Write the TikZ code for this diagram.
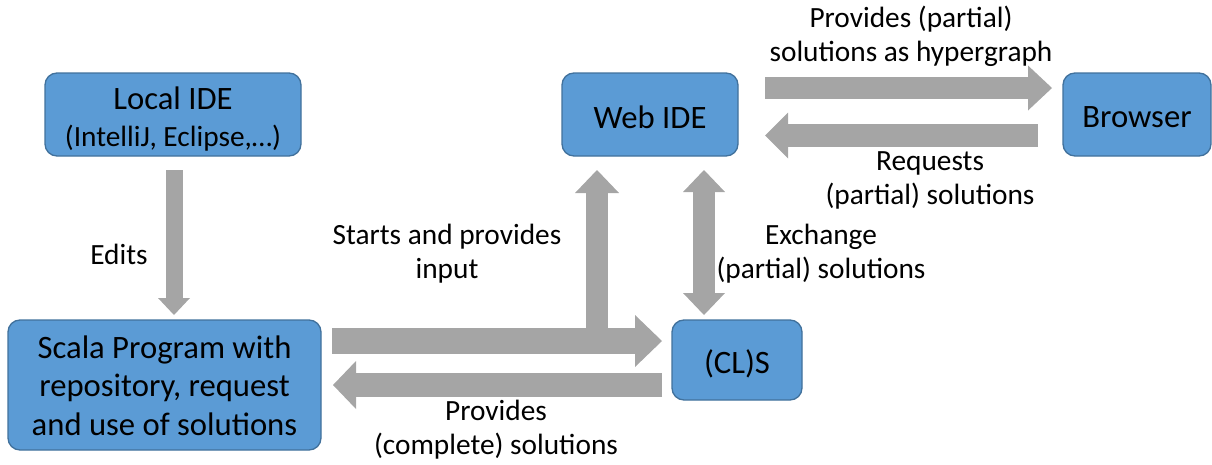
\documentclass[tikz,border=0pt]{standalone}
\usepackage{fontspec}
\setmainfont{Carlito}
\usetikzlibrary{arrows.meta}
\definecolor{boxfill}{HTML}{5B9BD5}
\definecolor{boxline}{HTML}{41719C}
\definecolor{arrowgray}{HTML}{A5A5A5}
\begin{document}
\begin{tikzpicture}[x=0.75pt,y=-0.75pt,
  box/.style={draw=boxline, fill=boxfill, line width=1pt, rounded corners=9pt,
    inner sep=0pt},
  boxtext/.style={align=center, inner sep=0pt, font=\fontsize{24.5}{29}\selectfont},
  lbl/.style={align=center, font=\fontsize{22}{25.5}\selectfont, inner sep=0pt},
  blk/.style={draw=arrowgray, line width=#1},
]
\useasboundingbox (0,0) rectangle (1212,464);

% boxes
\node[box, minimum width=192pt, minimum height=62.25pt] (local) at (173,114.5) {};
\node[box, minimum width=234.75pt, minimum height=97.5pt] (scala) at (164.5,385) {};
\node[box, minimum width=132pt, minimum height=62.25pt] (web) at (650,114.5) {};
\node[box, minimum width=111pt, minimum height=62.25pt] (browser) at (1137,114.5) {};
\node[box, minimum width=97.5pt, minimum height=60pt] (cls) at (737,360) {};

% box texts
\node[boxtext] (localtext) at ([yshift=-3.4pt]local.center)
  {Local IDE\\[-1.5pt]{\fontsize{22}{26}\selectfont (IntelliJ, Eclipse,\dots)}};
\node[boxtext] (scalatext) at ([yshift=-0.5pt]scala.center)
  {Scala Program with\\repository, request\\and use of solutions};
\node[boxtext] (webtext) at ([yshift=-2.3pt]web.center) {Web IDE};
\node[boxtext] (browsertext) at ([yshift=-2.3pt]browser.center) {Browser};
\node[boxtext] (clstext) at ([yshift=-3pt]cls.center) {(CL)S};

% arrow end points
\coordinate (e1) at (174,170);   \coordinate (e2) at (174,315);
\coordinate (s1) at (332,341);   \coordinate (s2) at (662,341);
\coordinate (u1) at (597,341);   \coordinate (u2) at (597,170);
\coordinate (d1) at (704,170);   \coordinate (d2) at (704,315);
\coordinate (p1) at (662,385);   \coordinate (p2) at (333,385);
\coordinate (h1) at (765,88);    \coordinate (h2) at (1052,88);
\coordinate (r1) at (1038,135.5);\coordinate (r2) at (765,135.5);

% block arrows
\draw[blk=12.75pt, -{Triangle[length=12.75pt, width=24pt, line width=0pt]}] (e1) -- (e2);
\draw[blk=16.5pt, -{Triangle[length=17.25pt, width=33pt, line width=0pt]}] (u1) -- (u2);
\draw[blk=19.5pt, -{Triangle[length=20.25pt, width=39pt, line width=0pt]}] (s1) -- (s2);
\draw[blk=16.5pt, {Triangle[length=16.5pt, width=31.5pt, line width=0pt]}-{Triangle[length=16.5pt, width=31.5pt, line width=0pt]}] (d1) -- (d2);
\draw[blk=18pt, -{Triangle[length=17.25pt, width=36pt, line width=0pt]}] (p1) -- (p2);
\draw[blk=16.5pt, -{Triangle[length=18pt, width=33.75pt, line width=0pt]}] (h1) -- (h2);
\draw[blk=17.25pt, -{Triangle[length=17.25pt, width=34.5pt, line width=0pt]}] (r1) -- (r2);

% labels
\node[lbl] (l1) at (911,36) {Provides (partial)\\solutions as hypergraph};
\node[lbl] (l2) at (930,180) {Requests\\(partial) solutions};
\node[lbl] (l3) at (447,254) {Starts and provides\\input};
\node[lbl] (l4) at (821,254) {Exchange\\(partial) solutions};
\node[lbl] (l5) at (119,254) {Edits};
\node[lbl] (l6) at (496,430) {Provides\\(complete) solutions};
\end{tikzpicture}
\end{document}
